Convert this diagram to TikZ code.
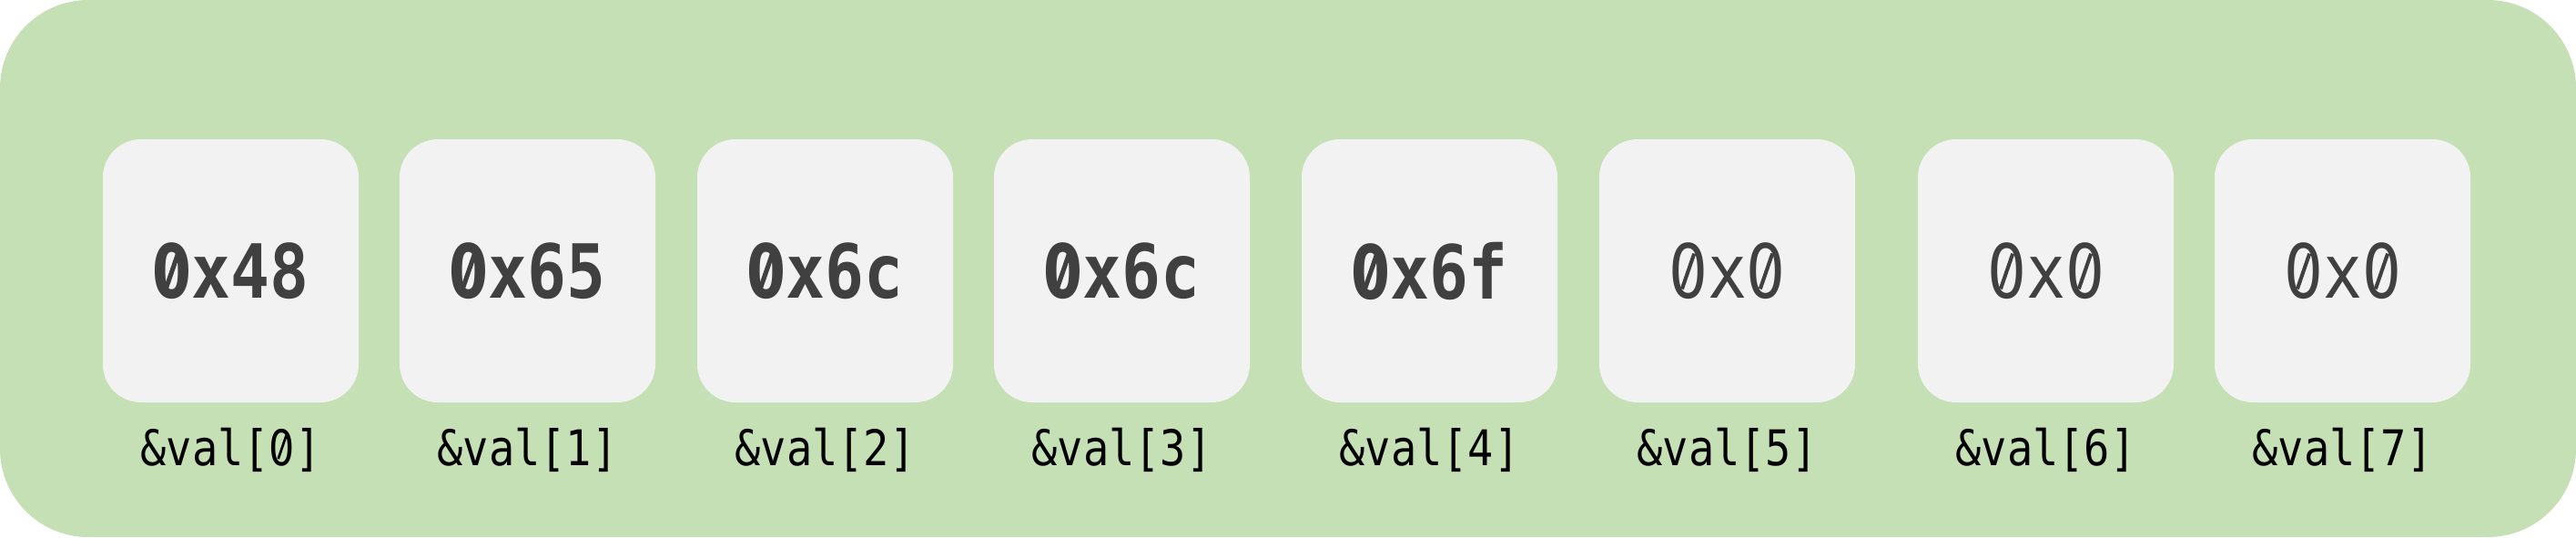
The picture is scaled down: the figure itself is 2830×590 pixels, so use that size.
\documentclass[tikz,border=0pt]{standalone}
\usepackage{fontspec}
\newfontfamily\cellmono[FakeStretch=0.87]{DejaVu Sans Mono}
\newfontfamily\zerosans[FakeStretch=0.8235,BoldFeatures={FakeStretch=0.7525}]{DejaVu Sans}
\makeatletter
\newcommand\zslashmark{\ifx\f@series\bfseries@name\def\zth{0.062em}\else\def\zth{0.05em}\fi
  \raisebox{0.115em}{\rotatebox[origin=c]{-19}{\rule{\zth}{0.5em}}}}
\def\bfseries@name{b}
\makeatother
\newcommand\slz{{\ooalign{{\zerosans 0}\cr\hidewidth\zslashmark\hidewidth\cr}}}
\definecolor{outergreen}{HTML}{C5E0B4}
\definecolor{cellgray}{HTML}{F2F2F2}
\definecolor{valtext}{HTML}{404040}
\begin{document}
\begin{tikzpicture}[x=1pt,y=-1pt,
  cellbox/.style={fill=cellgray, draw=none, rounded corners=42pt,
    minimum width=281pt, minimum height=289pt, inner sep=0pt,
    text=valtext, font=\cellmono\fontsize{82}{90}\selectfont},
  boldval/.style={font=\cellmono\bfseries\fontsize{82}{90}\selectfont},
  regval/.style={},
  addrlabel/.style={anchor=base, inner sep=0pt, text=black,
    font=\cellmono\fontsize{54}{60}\selectfont}]
\useasboundingbox (0,0) rectangle (2830,590);
\fill[outergreen, rounded corners=97pt] (0,0) rectangle (2830,590);
\foreach \i/\xl/\v/\st/\d in {0/113/\slz x48/boldval/\slz, 1/439/\slz x65/boldval/1,
  2/766/\slz x6c/boldval/2, 3/1092/\slz x6c/boldval/3, 4/1430/\slz x6f/boldval/4,
  5/1757/\slz x\slz/regval/5, 6/2107/\slz x\slz/regval/6, 7/2433/\slz x\slz/regval/7}{
  \node[cellbox, \st] (c\i) at (\xl+140.5, 297.5) {\v};
  \node[addrlabel] (l\i) at (\xl+140.5, 511) {\&val[\d]};
}
\end{tikzpicture}
\end{document}
